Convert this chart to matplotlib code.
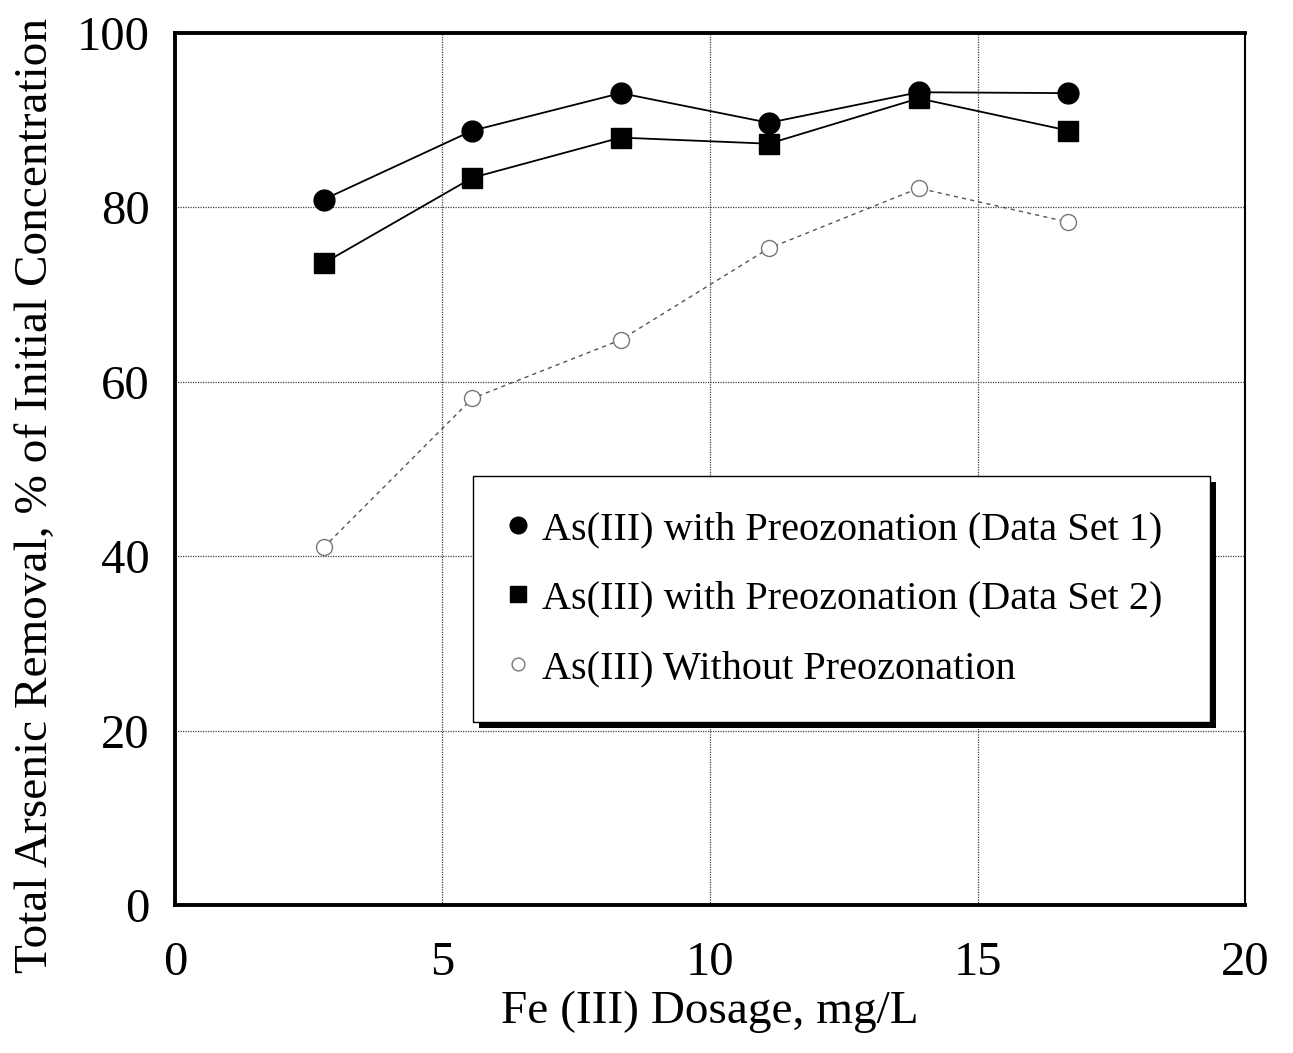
import matplotlib
matplotlib.use("Agg")
import matplotlib.pyplot as plt
from matplotlib.patches import Rectangle

plt.rcParams['font.family'] = ['Liberation Serif', 'DejaVu Serif']

dosage = [2.78, 5.56, 8.33, 11.1, 13.9, 16.7]
set1 = [80.9, 88.8, 93.1, 89.7, 93.2, 93.1]
set2 = [73.6, 83.4, 88.0, 87.3, 92.5, 88.8]
no_ozone = [41.0, 58.1, 64.8, 75.3, 82.2, 78.3]

labels = ["As(III) with Preozonation (Data Set 1)",
          "As(III) with Preozonation (Data Set 2)",
          "As(III) Without Preozonation"]

fig = plt.figure(figsize=(12.93, 10.53), dpi=100)
ax = fig.add_axes([0.1353, 0.1406, 0.8276, 0.8281])

ax.plot(dosage, set1, color='black', lw=1.3, marker='o', ms=15, label=labels[0], zorder=3)
ax.plot(dosage, set2, color='black', lw=1.3, marker='s', ms=15, label=labels[1], zorder=3)
ax.plot(dosage, no_ozone, color='#555555', lw=1.0, ls=(0, (3, 3)), marker='o', ms=11.5,
        mfc='white', mec='#777777', mew=1.0, label=labels[2], zorder=3)

ax.set_xlim(0, 20)
ax.set_ylim(0, 100)
ax.set_xticks([0, 5, 10, 15, 20])
ax.set_yticks([0, 20, 40, 60, 80, 100])
ax.tick_params(axis='both', length=0, labelsize=35)
ax.tick_params(axis='x', pad=26)
ax.tick_params(axis='y', pad=18)
ax.grid(True, color='#444444', ls=(0, (1, 1)), lw=0.9)
for s in ['left', 'bottom', 'top']:
    ax.spines[s].set_linewidth(2.8)
ax.spines['right'].set_linewidth(1.5)

ax.set_xlabel("Fe (III) Dosage, mg/L", fontsize=34, labelpad=4)
fig.text(47 / 1293, 1 - 495 / 1053, "Total Arsenic Removal, % of Initial Concentration",
         fontsize=34, rotation=90, ha='center', va='baseline', rotation_mode='anchor')

leg = ax.legend(loc='upper left', bbox_to_anchor=(0.2785, 0.492, 0.689, 0.0), mode='expand',
                fontsize=29, frameon=True, fancybox=False, shadow=False, framealpha=1.0,
                handlelength=0.5, handletextpad=0.35, borderpad=0.87, labelspacing=0.8,
                markerscale=0.8, borderaxespad=0)
leg.get_frame().set_edgecolor('black')
leg.get_frame().set_linewidth(1.0)
leg.set_zorder(10)
for h in leg.legend_handles:
    h.set_linestyle('None')

fig.canvas.draw()
bb = leg.get_frame().get_window_extent().transformed(fig.transFigure.inverted())
dx = 6 / fig.bbox.width
dy = 6 / fig.bbox.height
shadow = Rectangle((bb.x0 + dx, bb.y0 - dy), bb.width, bb.height, transform=fig.transFigure,
                   facecolor='black', edgecolor='none', zorder=9)
ax.add_artist(shadow)
shadow.set_clip_on(False)

fig.savefig("out.png", dpi=100)
